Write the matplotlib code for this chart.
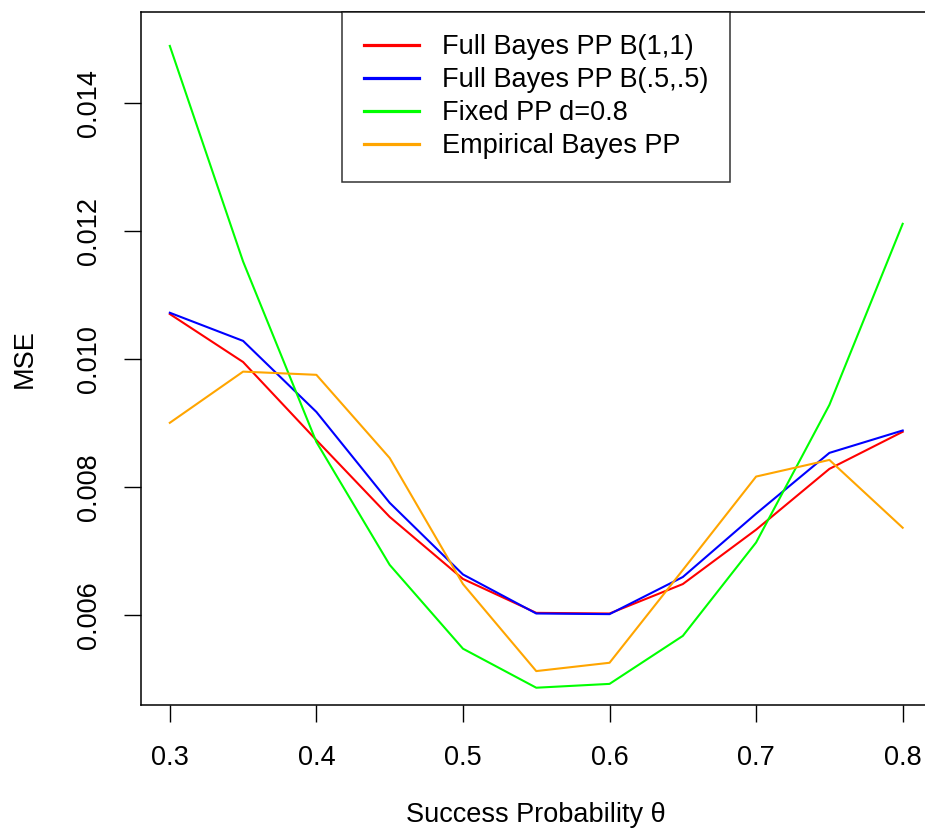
import matplotlib.pyplot as plt
import numpy as np

plt.rcParams['font.family'] = ['Liberation Sans', 'DejaVu Sans']

# success probability grid
theta = [0.3, 0.35, 0.4, 0.45, 0.5, 0.55, 0.6, 0.65, 0.7, 0.75, 0.8]

# MSE
mse_fb11 = [0.01070, 0.00995, 0.00873, 0.00753, 0.00656, 0.00603, 0.00602,
            0.00648, 0.00733, 0.00828, 0.00886]
mse_fb55 = [0.01072, 0.01028, 0.00917, 0.00775, 0.00663, 0.00602, 0.00601,
            0.00659, 0.00758, 0.00853, 0.00888]
mse_fixed = [0.01489, 0.01152, 0.00870, 0.00678, 0.00547, 0.00486, 0.00492,
             0.00567, 0.00713, 0.00928, 0.01211]
mse_eb = [0.00900, 0.00980, 0.00975, 0.00845, 0.00648, 0.00512, 0.00525,
          0.00670, 0.00816, 0.00842, 0.00736]

labels = ['Full Bayes PP B(1,1)', 'Full Bayes PP B(.5,.5)',
          'Fixed PP d=0.8', 'Empirical Bayes PP']
colors = ['#FF0000', '#0000FF', '#00FF00', '#FFA500']

W, H = 925, 831
fs = 19.5
fig = plt.figure(figsize=(W / 100, H / 100), dpi=100)
ax = fig.add_axes([140.5 / W, 1 - 705 / H, (932 - 140.5) / W, (705 - 12) / H])

for y, lab, c in zip([mse_fb11, mse_fb55, mse_fixed, mse_eb], labels, colors):
    ax.plot(theta, y, color=c, lw=1.5, label=lab)

ax.set_xlim(0.28, 0.82)
ax.set_ylim(0.00459, 0.01542)
ax.set_xticks([0.3, 0.4, 0.5, 0.6, 0.7, 0.8])
ax.set_xticklabels(['0.3', '0.4', '0.5', '0.6', '0.7', '0.8'])
ax.set_yticks([0.006, 0.008, 0.010, 0.012, 0.014])
ax.set_yticklabels(['0.006', '0.008', '0.010', '0.012', '0.014'],
                   rotation=90, va='center')
ax.tick_params(length=12, width=1, labelsize=fs)
ax.tick_params(axis='x', pad=17)
ax.tick_params(axis='y', pad=16)
for s in ax.spines.values():
    s.set_linewidth(1.1)

ax.set_xlabel('Success Probability θ', fontsize=fs, labelpad=22)
ax.set_ylabel('MSE', fontsize=fs, labelpad=27)

leg = ax.legend(loc='upper center', bbox_to_anchor=(0.5, 1.0), borderaxespad=0,
                fontsize=fs, frameon=True, fancybox=False, edgecolor='black',
                handlelength=2.0, handletextpad=0.85, labelspacing=0.26,
                borderpad=0.82)
leg.get_frame().set_linewidth(1.1)
for h in leg.get_lines():
    h.set_linewidth(2.3)

fig.savefig('out.png', dpi=100)
